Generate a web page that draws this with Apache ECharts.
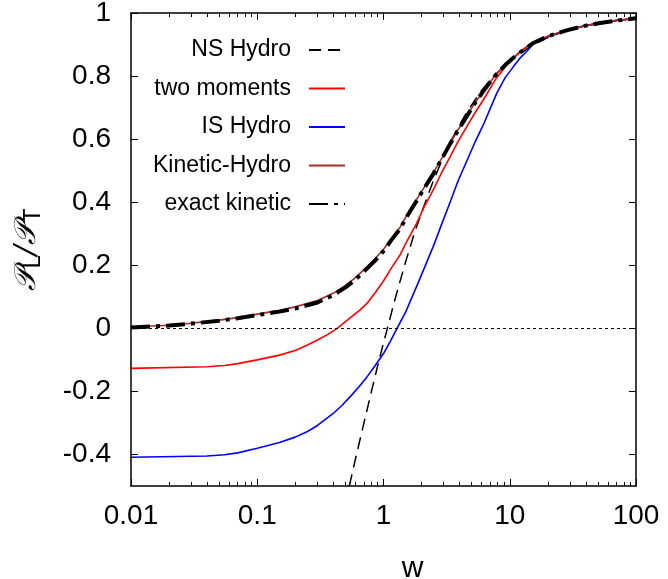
<!DOCTYPE html>
<html><head><meta charset="utf-8">
<script src="https://cdn.jsdelivr.net/npm/echarts@6/dist/echarts.min.js"></script>
<style>html,body{margin:0;padding:0;background:#fff}#c{width:668px;height:579px}</style>
</head><body><div id="c"></div>
<script>
const xTicks = [0.01, 0.1, 1, 10, 100];
const xMinorTicks = [0.02,0.03,0.04,0.05,0.06,0.07,0.08,0.09,
  0.2,0.3,0.4,0.5,0.6,0.7,0.8,0.9, 2,3,4,5,6,7,8,9, 20,30,40,50,60,70,80,90];
const yTicks = [-0.4, -0.2, 0, 0.2, 0.4, 0.6, 0.8, 1];
const seriesNames = ['NS Hydro', 'two moments', 'IS Hydro', 'Kinetic-Hydro', 'exact kinetic'];

const nsHydro = [[0.536,-0.5],[0.6,-0.414],[0.7,-0.30],[0.8,-0.202],[0.9,-0.118],[1.0,-0.046],
  [1.1,0.016],[1.2,0.075],[1.35,0.148],[1.5,0.212],[1.75,0.30],[2.0,0.367],[2.5,0.471],[3.0,0.546],[3.37,0.589],
  [4.0,0.645],[4.56,0.685],[6,0.755],[7.88,0.809],[10.7,0.857],[15.4,0.899],[20,0.922],[28.2,0.944],[40,0.96],
  [52,0.969],[70,0.977],[100,0.984]];
const twoMoments = [[0.01,-0.127],[0.04,-0.122],[0.055,-0.118],[0.07,-0.112],[0.1,-0.100],[0.15,-0.085],[0.2,-0.070],
  [0.25,-0.053],[0.3,-0.037],[0.36,-0.020],[0.43,0.0],[0.55,0.035],[0.65,0.058],[0.74,0.079],[0.86,0.113],[1.0,0.15],
  [1.15,0.19],[1.35,0.232],[1.55,0.28],[1.83,0.333],[2.1,0.385],[2.48,0.439],[2.9,0.495],
  [3.37,0.544],[3.9,0.593],[4.56,0.639],[5.3,0.683],[6.17,0.724],[7.88,0.795],[10,0.847],[12,0.877],[13.6,0.893],[15.4,0.905],[20,0.926],
  [28.2,0.945],[40,0.96],[52,0.968],[70,0.976],[100,0.983]];
const isHydro = [[0.01,-0.409],[0.04,-0.405],[0.055,-0.401],[0.07,-0.395],[0.1,-0.380],[0.15,-0.362],[0.2,-0.345],
  [0.25,-0.327],[0.3,-0.308],[0.4,-0.270],[0.47,-0.244],[0.55,-0.215],[0.64,-0.185],[0.74,-0.154],[0.86,-0.118],[1.0,-0.08],
  [1.13,-0.042],[1.28,0.0],[1.5,0.052],[1.83,0.133],[2.1,0.19],[2.48,0.26],[2.9,0.332],
  [3.37,0.40],[3.9,0.468],[4.56,0.53],[5.3,0.59],[6.17,0.645],[7.88,0.745],[9.2,0.795],[10.7,0.83],[12,0.856],[13.6,0.878],[15.4,0.902],[20,0.925],
  [28.2,0.945],[40,0.96],[52,0.968],[70,0.976],[100,0.983]];
const kineticHydro = [[0.01,0.004],[0.02,0.010],[0.03,0.016],[0.05,0.026],[0.07,0.034],[0.1,0.045],[0.15,0.057],[0.2,0.068],
  [0.3,0.088],[0.4,0.111],[0.5,0.136],[0.6,0.161],[0.7,0.186],[0.85,0.219],[1.0,0.251],[1.15,0.284],[1.35,0.320],[1.55,0.362],[1.8,0.404],[2.1,0.447],[2.48,0.493],
  [2.9,0.540],[3.37,0.587],[3.9,0.630],[4.56,0.673],[5.2,0.710],[6,0.745],[6.9,0.778],[7.88,0.807],[9.2,0.835],[10.7,0.858],[12.8,0.883],[15.4,0.905],[20,0.926],[28.2,0.945],
  [40,0.96],[52,0.968],[70,0.976],[100,0.983]];
const exactKinetic = [[0.01,0.003],[0.02,0.009],[0.03,0.015],[0.05,0.024],[0.07,0.032],[0.1,0.042],[0.15,0.053],[0.2,0.063],
  [0.3,0.082],[0.4,0.105],[0.5,0.13],[0.6,0.155],[0.7,0.18],[0.85,0.213],[1.0,0.245],[1.15,0.279],[1.35,0.315],[1.55,0.358],[1.8,0.40],[2.1,0.444],[2.48,0.49],
  [2.9,0.538],[3.37,0.585],[3.9,0.628],[4.56,0.672],[5.2,0.709],[6,0.745],[6.9,0.778],[7.88,0.807],[9.2,0.835],[10.7,0.858],[12.8,0.883],[15.4,0.905],[20,0.926],[28.2,0.945],
  [40,0.96],[52,0.968],[70,0.976],[100,0.983]];

const FONT = 'Liberation Sans';
const chart = echarts.init(document.getElementById('c'), null, {renderer: 'canvas'});
const logAxis = (pos, ticks, len, labels, line) => ({
  type: 'log', logBase: 10, min: 0.01, max: 100, position: pos,
  axisLine: {show: line, onZero: false, lineStyle: {color: '#000', width: 1.5}},
  axisTick: {show: true, inside: true, length: len, customValues: ticks, lineStyle: {color: '#000', width: 1}},
  axisLabel: labels ? {show: true, customValues: ticks, margin: 16, fontSize: 28, color: '#000', fontFamily: FONT,
    formatter: v => String(+(+v).toPrecision(6))} : {show: false},
  splitLine: {show: false}, minorTick: {show: false}
});
const xMain = logAxis('bottom', xTicks, 7, true, true);
xMain.name = 'w';
xMain.nameLocation = 'middle';
xMain.nameGap = 68;
xMain.nameTextStyle = {fontSize: 30, color: '#000', fontFamily: FONT, padding: [0, 0, 0, 58]};

const lineCommon = {type: 'line', showSymbol: false, symbol: 'none', smooth: false, clip: true};
chart.setOption({
  animation: false,
  backgroundColor: '#fff',
  grid: {left: 131, right: 32, top: 13, bottom: 93, containLabel: false, outerBoundsMode: 'none'},
  legend: {
    orient: 'vertical', align: 'right', right: 317, top: 33,
    itemWidth: 36, itemHeight: 14, itemGap: 14.5,
    itemStyle: {color: 'rgba(0,0,0,0)', borderColor: 'rgba(0,0,0,0)', borderWidth: 0, opacity: 0},
    textStyle: {fontSize: 23, color: '#000', fontFamily: FONT, lineHeight: 24, padding: [0, 13, 0, 0]},
    data: seriesNames
  },
  xAxis: [
    xMain,
    logAxis('bottom', xMinorTicks, 4, false, false),
    logAxis('top', xTicks, 7, false, true),
    logAxis('top', xMinorTicks, 4, false, false)
  ],
  yAxis: [
    {type: 'value', min: -0.5, max: 1, position: 'left',
     axisLine: {show: true, onZero: false, lineStyle: {color: '#000', width: 1.5}},
     axisTick: {show: true, inside: true, length: 7, customValues: yTicks, lineStyle: {color: '#000'}},
     axisLabel: {show: true, customValues: yTicks, margin: 20, fontSize: 28, color: '#000', fontFamily: FONT,
       formatter: v => String(+(+v).toFixed(2))},
     splitLine: {show: false},
     name: '{p|\u{1D4AB}}{s|L}{p|/\u{1D4AB}}{s|T}', nameLocation: 'middle', nameGap: 86, nameRotate: 90,
     nameTextStyle: {rich: {
       p: {fontSize: 30, fontFamily: 'DejaVu Serif', fontStyle: 'italic', color: '#000', lineHeight: 36, verticalAlign: 'middle'},
       s: {fontSize: 24, fontFamily: FONT, color: '#000', lineHeight: 36, verticalAlign: 'bottom', padding: [12, 0, 0, 0]}
     }}
    },
    {type: 'value', min: -0.5, max: 1, position: 'right',
     axisLine: {show: true, onZero: false, lineStyle: {color: '#000', width: 1.5}},
     axisTick: {show: true, inside: true, length: 7, customValues: yTicks, lineStyle: {color: '#000'}},
     axisLabel: {show: false}, splitLine: {show: false}}
  ],
  series: [
    Object.assign({}, lineCommon, {name: seriesNames[0], data: nsHydro, color: '#000',
      lineStyle: {color: '#000', width: 1.5, type: [12, 7]},
      markLine: {silent: true, symbol: 'none', label: {show: false},
        lineStyle: {color: '#000', width: 1, type: [3, 3]}, data: [{yAxis: 0}]}}),
    Object.assign({}, lineCommon, {name: seriesNames[1], data: twoMoments, color: '#ff0000',
      lineStyle: {color: '#ff0000', width: 1.6}}),
    Object.assign({}, lineCommon, {name: seriesNames[2], data: isHydro, color: '#0000ff',
      lineStyle: {color: '#0000ff', width: 1.6}}),
    Object.assign({}, lineCommon, {name: seriesNames[3], data: kineticHydro, color: '#a52a2a',
      lineStyle: {color: '#a52a2a', width: 1.6}}),
    Object.assign({}, lineCommon, {name: seriesNames[4], data: exactKinetic, color: '#000',
      lineStyle: {color: '#000', width: 4, type: [19, 6, 4, 6]}})
  ]
});
</script>
</body></html>
